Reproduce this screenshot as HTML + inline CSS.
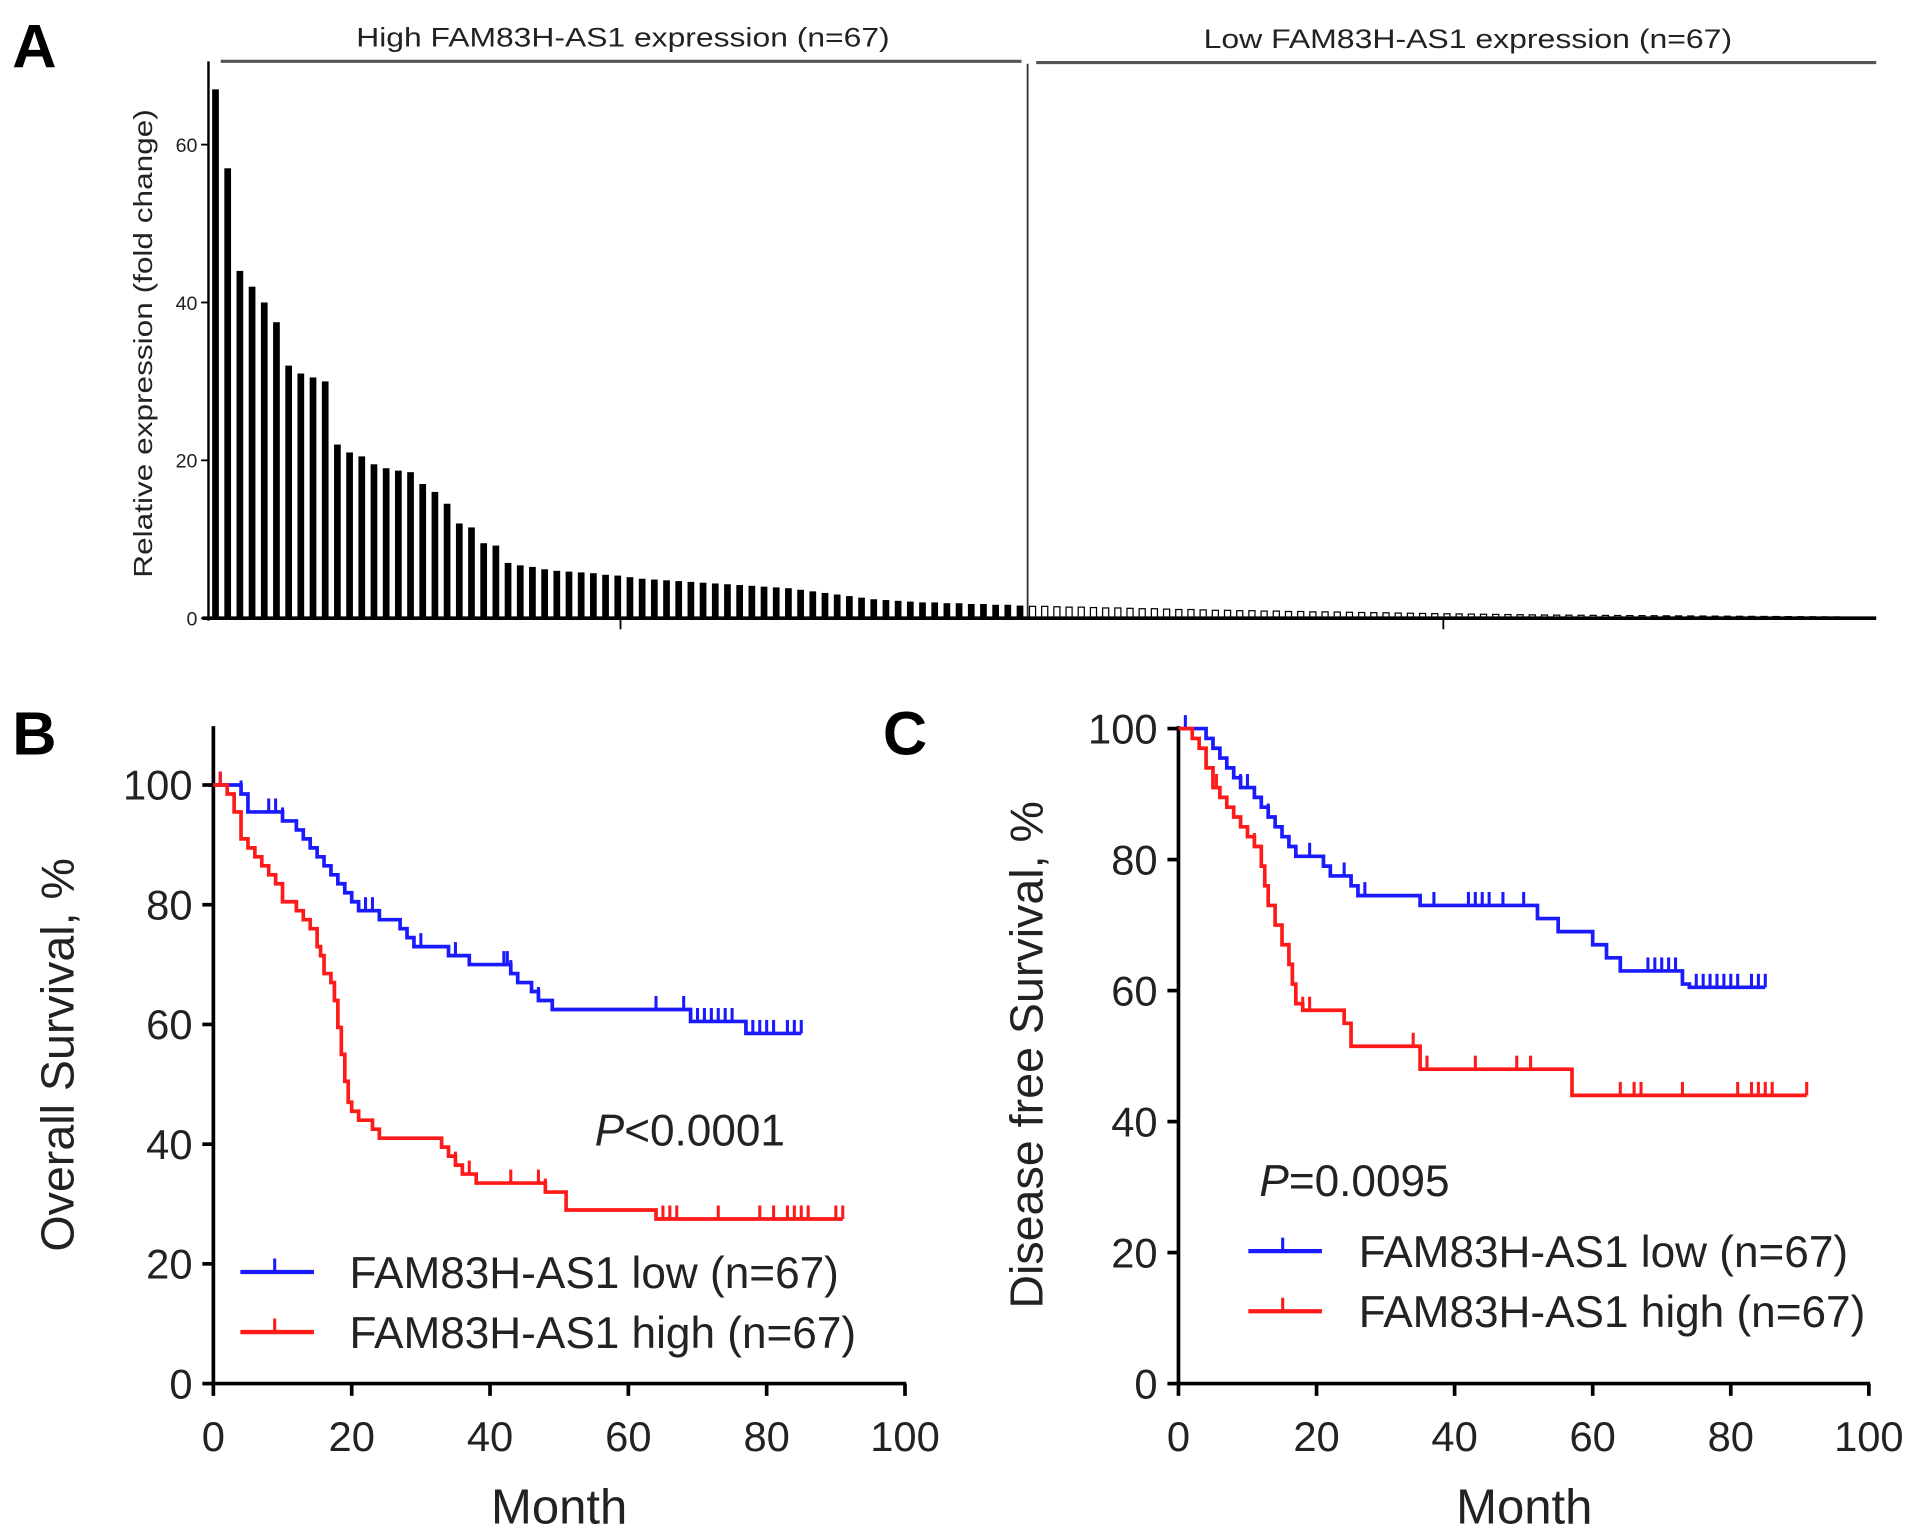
<!DOCTYPE html>
<html><head><meta charset="utf-8"><style>html,body{margin:0;padding:0;background:#fff}svg{display:block}text{font-family:"Liberation Sans",sans-serif;fill:#222}</style></head>
<body>
<svg id="fig" width="1913" height="1532" viewBox="0 0 1560 1249" preserveAspectRatio="none" xmlns="http://www.w3.org/2000/svg">
<g id="pa">
<text x="10" y="55" font-size="50" font-weight="bold" style="fill:#000">A</text>
<text x="508" y="38" font-size="22" text-anchor="middle" textLength="435" lengthAdjust="spacingAndGlyphs">High FAM83H-AS1 expression (n=67)</text>
<text x="1197" y="39" font-size="22" text-anchor="middle" textLength="431" lengthAdjust="spacingAndGlyphs">Low FAM83H-AS1 expression (n=67)</text>
<line x1="180" y1="50" x2="833" y2="50" stroke="#555" stroke-width="2.5"/>
<line x1="845" y1="51" x2="1530" y2="51" stroke="#555" stroke-width="2.5"/>
<line x1="838" y1="52" x2="838" y2="504" stroke="#333" stroke-width="1.5"/>
<text transform="translate(124,280) rotate(-90)" font-size="21" text-anchor="middle" textLength="382" lengthAdjust="spacingAndGlyphs">Relative expression (fold change)</text>
</g>
<g id="pb">
<text x="10" y="615" font-size="50" font-weight="bold" style="fill:#000">B</text>
<text transform="translate(60,860) rotate(-90)" font-size="38" text-anchor="middle">Overall Survival, %</text>
<text x="456" y="1242" font-size="40" text-anchor="middle">Month</text>
<text x="485" y="934" font-size="36"><tspan font-style="italic">P</tspan>&lt;0.0001</text>
</g>
<g id="pc">
<text x="720" y="615" font-size="50" font-weight="bold" style="fill:#000">C</text>
<text transform="translate(850,860) rotate(-90)" font-size="38" text-anchor="middle">Disease free Survival, %</text>
<text x="1243" y="1242" font-size="40" text-anchor="middle">Month</text>
<text x="1027" y="975" font-size="36"><tspan font-style="italic">P</tspan>=0.0095</text>
</g>
</svg>
<script>
const highExpr=[67,57,44,42,40,37.5,32,31,30.5,30,22,21,20.5,19.5,19,18.7,18.5,17,16,14.5,12,11.5,9.5,9.2,7,6.7,6.5,6.2,6,5.9,5.8,5.7,5.5,5.4,5.2,5,4.9,4.8,4.7,4.6,4.5,4.4,4.3,4.2,4.1,4.0,3.9,3.8,3.6,3.4,3.2,3.0,2.8,2.6,2.4,2.3,2.2,2.1,2.0,2.0,1.9,1.9,1.8,1.8,1.7,1.7,1.6];
const lowExpr=[1.5,1.5,1.45,1.4,1.4,1.35,1.3,1.3,1.25,1.2,1.2,1.15,1.1,1.1,1.05,1.0,1.0,0.95,0.95,0.9,0.9,0.85,0.85,0.8,0.8,0.78,0.75,0.72,0.7,0.68,0.65,0.63,0.6,0.58,0.56,0.54,0.52,0.5,0.48,0.46,0.44,0.42,0.4,0.39,0.38,0.37,0.36,0.35,0.34,0.33,0.32,0.31,0.3,0.29,0.28,0.27,0.26,0.25,0.24,0.23,0.22,0.21,0.2,0.19,0.18,0.17,0.16];
const aTicks=[0,20,40,60];
const kmTicks=[0,20,40,60,80,100];
const osLowT=[0,4,5,10,12,13,14,15,16,17,18,19,20,21,24,27,28,29,34,37,43,44,46,47,49,69,77];
const osLowS=[100,98.5,95.5,94,92.5,91,89.5,88,86.5,85,83.5,82,80.5,79,77.5,76,74.5,73,71.5,70,68.5,67,65.5,64,62.5,60.5,58.5];
const osLowCens=[1,4,8,9,10,22,23,30,35,42,42.5,43,47,64,68,70,71,72,73,74,75,78,79,80,81,83,84,85];
const osLowEnd=85;
const osHighT=[0,2,3,4,5,6,7,8,9,10,12,13,14,15,15.5,16,17,17.5,18,18.5,19,19.5,20,21,23,24,33,34,35,36,38,48,51,64];
const osHighS=[100,98.5,95.5,91,89.5,88,86.5,85,83.5,80.5,79,77.5,76,73,71.5,68.5,67,64,59.5,55,50.5,47,45.5,44,42.5,41,39.5,38,36.5,35,33.5,32,29,27.5];
const osHighCens=[1,35,37,43,47,48,65,66,67,73,79,81,83,84,85,86,90,91];
const osHighEnd=91;
const dfsLowT=[0,4,5,6,7,8,9,11,12,13,14,15,16,17,21,22,25,26,35,52,55,60,62,64,73,74];
const dfsLowS=[100,98.5,97,95.5,94,92.5,91,89.5,88,86.5,85,83.5,82,80.5,79,77.5,76,74.5,73,71,69,67,65,63,61,60.5];
const dfsLowCens=[1,9,10,13,19,24,27,37,42,43,44,45,47,50,68,69,70,71,72,73,75,76,77,78,79,80,81,83,84,85];
const dfsLowEnd=85;
const dfsHighT=[0,2,3,4,5,6,7,8,9,10,11,12,12.5,13,14,15,16,16.5,17,18,24,25,35,57];
const dfsHighS=[100,98.5,97,94,91,89.5,88,86.5,85,83.5,82,79,76,73,70,67,64,61,58,57,55,51.5,48,44];
const dfsHighCens=[5.5,11,17,18,19,34,36,43,49,51,64,66,67,73,81,83,84,85,86,91];
const dfsHighEnd=91;

const NS='http://www.w3.org/2000/svg';
function mk(tag,attrs,parent){const e=document.createElementNS(NS,tag);for(const k in attrs)e.setAttribute(k,attrs[k]);parent.appendChild(e);return e;}
const pa=document.getElementById('pa');
const ay=v=>504-v*(128.7/20);
const bw=(838-172)/67;
const axBar=i=>172+i*bw;
highExpr.forEach((v,i)=>{const r=mk('rect',{x:axBar(i)+1,y:ay(v),width:bw*0.55,height:504-ay(v),fill:'#000'},pa);

});
lowExpr.forEach((v,i)=>{const r=mk('rect',{x:838+i*bw+1.5,y:ay(v),width:bw*0.5,height:504-ay(v),fill:'#fff',stroke:'#000','stroke-width':1},pa);

});
let l=mk('line',{x1:170,y1:50,x2:170,y2:506,stroke:'#000','stroke-width':2},pa);


l=mk('line',{x1:165,y1:504,x2:1530,y2:504,stroke:'#000','stroke-width':3},pa);


[506,1177].forEach(x=>{const t=mk('line',{x1:x,y1:504,x2:x,y2:513,stroke:'#000','stroke-width':1.5},pa);

});
aTicks.forEach(v=>{const t=mk('line',{x1:164,y1:ay(v),x2:170,y2:ay(v),stroke:'#000','stroke-width':1.5},pa);


const tx=mk('text',{x:161,y:ay(v)+6,'font-size':16,'text-anchor':'end'},pa);tx.textContent=v;

});

function km(g,cfg){
  const X=t=>cfg.x0+t*cfg.xs, Y=s=>cfg.y0-s*cfg.ys;
  let a=mk('line',{x1:cfg.x0,y1:cfg.yTop,x2:cfg.x0,y2:Y(0)+1,stroke:'#000','stroke-width':3},g);
  
  
  a=mk('line',{x1:cfg.x0-1,y1:Y(0),x2:X(100)+1,y2:Y(0),stroke:'#000','stroke-width':3},g);
  
  
  kmTicks.forEach(v=>{
    let t=mk('line',{x1:cfg.x0-9,y1:Y(v),x2:cfg.x0,y2:Y(v),stroke:'#000','stroke-width':3},g);
    
    
    let tx=mk('text',{x:cfg.x0-17,y:Y(v)+12,'font-size':34,'text-anchor':'end'},g);tx.textContent=v;
    
    
    t=mk('line',{x1:X(v),y1:Y(0),x2:X(v),y2:Y(0)+10,stroke:'#000','stroke-width':3},g);
    
    
    tx=mk('text',{x:X(v),y:Y(0)+55,'font-size':34,'text-anchor':'middle'},g);tx.textContent=v;
    
    
  });
  cfg.series.forEach(s=>{
    let d='M'+X(s.T[0])+','+Y(s.S[0]);
    for(let i=1;i<s.T.length;i++){d+=' H'+X(s.T[i])+' V'+Y(s.S[i]);}
    d+=' H'+X(s.end);
    const p=mk('path',{d:d,fill:'none',stroke:s.color,'stroke-width':3},g);
    
    
    s.C.forEach(c=>{let i=0;for(let k=0;k<s.T.length;k++)if(s.T[k]<=c)i=k;
      const yy=Y(s.S[i]);
      const t=mk('line',{x1:X(c),y1:yy,x2:X(c),y2:yy-11,stroke:s.color,'stroke-width':2.5},g);
      
      });
  });
  cfg.legend.forEach((lg,i)=>{
    const y=lg.y;
    let ln=mk('line',{x1:lg.x,y1:y,x2:lg.x+60,y2:y,stroke:lg.color,'stroke-width':3.5},g);
    
    
    ln=mk('line',{x1:lg.x+28,y1:y,x2:lg.x+28,y2:y-11,stroke:lg.color,'stroke-width':2.5},g);
    
    
    const tx=mk('text',{x:lg.tx,y:y+13,'font-size':36},g);tx.textContent=lg.text;
    
    
  });
}
km(document.getElementById('pb'),{x0:174,xs:5.64,y0:1128,ys:4.88,yTop:592,
 series:[{name:'os-low',T:osLowT,S:osLowS,C:osLowCens,end:osLowEnd,color:'#1a1aff'},
         {name:'os-high',T:osHighT,S:osHighS,C:osHighCens,end:osHighEnd,color:'#ff1a1a'}],
 legend:[{x:196,tx:285,y:1037,color:'#1a1aff',text:'FAM83H-AS1 low (n=67)'},
         {x:196,tx:285,y:1086,color:'#ff1a1a',text:'FAM83H-AS1 high (n=67)'}]});
km(document.getElementById('pc'),{x0:961,xs:5.63,y0:1128,ys:5.34,yTop:592,
 series:[{name:'dfs-low',T:dfsLowT,S:dfsLowS,C:dfsLowCens,end:dfsLowEnd,color:'#1a1aff'},
         {name:'dfs-high',T:dfsHighT,S:dfsHighS,C:dfsHighCens,end:dfsHighEnd,color:'#ff1a1a'}],
 legend:[{x:1018,tx:1108,y:1020,color:'#1a1aff',text:'FAM83H-AS1 low (n=67)'},
         {x:1018,tx:1108,y:1069,color:'#ff1a1a',text:'FAM83H-AS1 high (n=67)'}]});
</script>
</body></html>
